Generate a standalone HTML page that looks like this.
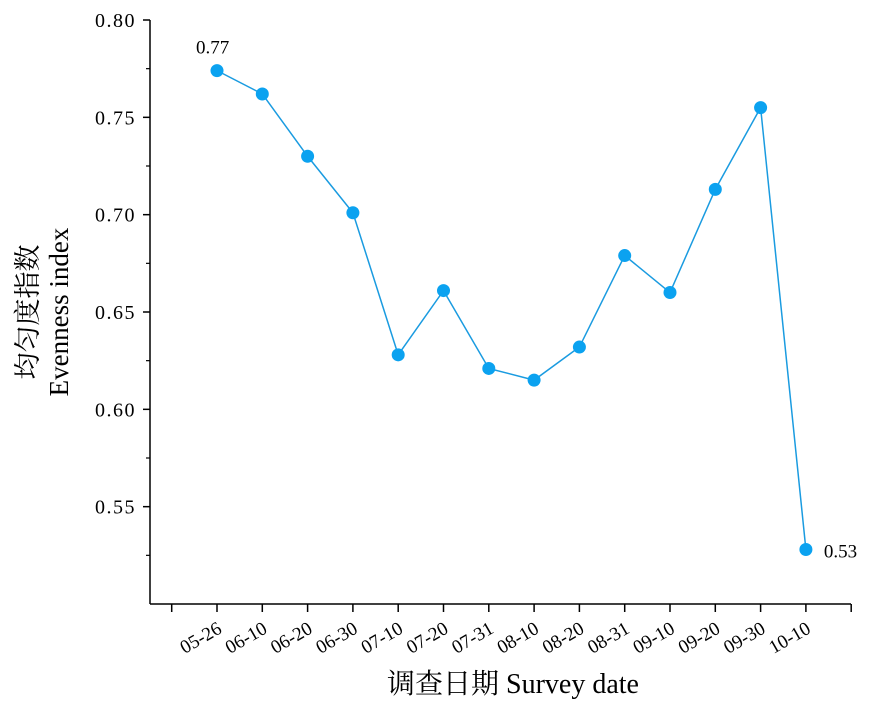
<!DOCTYPE html>
<html><head><meta charset="utf-8"><style>
body{margin:0;background:#fff;}
svg{display:block;font-family:"Liberation Serif","Noto Serif CJK SC",serif;}
</style></head><body>
<svg id="chart" width="886" height="705" viewBox="0 0 886 705"></svg>
<script>
const categories=["05-26","06-10","06-20","06-30","07-10","07-20","07-31","08-10","08-20","08-31","09-10","09-20","09-30","10-10"];
const values=[0.774,0.762,0.730,0.701,0.628,0.661,0.621,0.615,0.632,0.679,0.660,0.713,0.755,0.528];
const yTicks=[0.55,0.60,0.65,0.70,0.75,0.80];
const annotations=[{i:0,text:"0.77"},{i:13,text:"0.53"}];
const NS="http://www.w3.org/2000/svg";
const svg=document.getElementById("chart");
const x0=150,yTop=20,yBot=604,xRight=851;
const yMin=0.50,yMax=0.80;
function y(v){return yBot-(v-yMin)/(yMax-yMin)*(yBot-yTop);}
function x(i){return 217+i*45.3;}
function el(t,a,txt){const e=document.createElementNS(NS,t);for(const k in a)e.setAttribute(k,a[k]);if(txt!==undefined)e.textContent=txt;svg.appendChild(e);return e;}
let e;
e=el("line",{x1:x0,y1:yTop,x2:x0,y2:yBot,stroke:"#000","stroke-width":1.5});


e=el("line",{x1:x0,y1:yBot,x2:xRight,y2:yBot,stroke:"#000","stroke-width":1.5});


yTicks.forEach(t=>{
 e=el("line",{x1:x0-7,y1:y(t),x2:x0,y2:y(t),stroke:"#000","stroke-width":1.5});
 
 
 e=el("text",{x:x0-14,y:y(t)+7,"text-anchor":"end","font-size":20,"letter-spacing":"1.5"},t.toFixed(2));
 
 
});
for(let v=0.525;v<0.8;v+=0.05){
 e=el("line",{x1:x0-4,y1:y(v),x2:x0,y2:y(v),stroke:"#000","stroke-width":1.2});
 
 
}
for(let i=-1;i<=categories.length;i++){
 e=el("line",{x1:x(i),y1:yBot,x2:x(i),y2:yBot+8,stroke:"#000","stroke-width":1.5});
 
 
}
categories.forEach((c,i)=>{
 e=el("text",{x:x(i)+6,y:yBot+28,"text-anchor":"end","font-size":19,transform:`rotate(-30 ${x(i)+6} ${yBot+28})`},c);
 
 
});
e=el("polyline",{points:values.map((v,i)=>x(i)+","+y(v)).join(" "),fill:"none",stroke:"#1a9be0","stroke-width":1.5});


values.forEach((v,i)=>{
 e=el("circle",{cx:x(i),cy:y(v),r:6.5,fill:"#0ba2f0"});
 
 
});
annotations.forEach(a=>{
 const px=a.i===0?x(a.i)-21:x(a.i)+18, py=a.i===0?y(values[a.i])-17:y(values[a.i])+8;
 e=el("text",{x:px,y:py,"font-size":19},a.text);
 
 
});
e=el("text",{x:0,y:0,"font-size":27,"text-anchor":"middle",transform:"translate(37 312) rotate(-90)"},"均匀度指数");


e=el("text",{x:0,y:0,"font-size":27,"text-anchor":"middle",transform:"translate(68 312) rotate(-90)"},"Evenness index");


e=el("text",{x:513,y:693,"font-size":28,"text-anchor":"middle"},"调查日期  Survey date");


</script>
</body></html>
